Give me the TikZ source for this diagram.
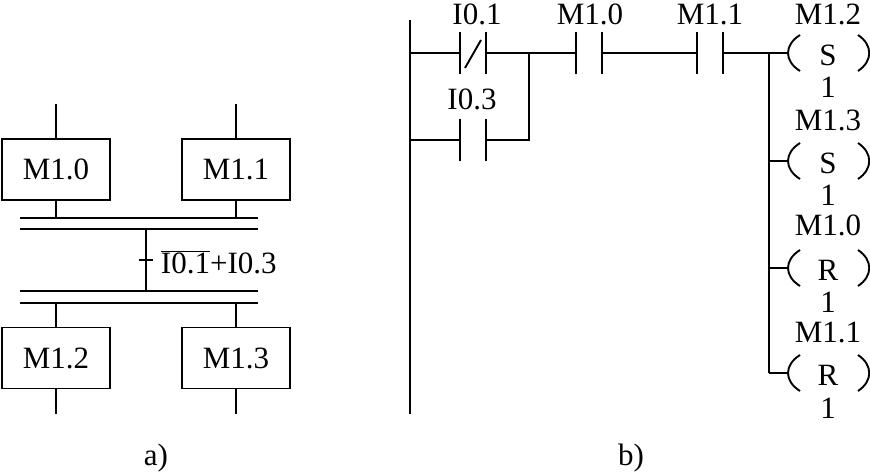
\documentclass[tikz,border=0pt]{standalone}
\usepackage{fontspec}
\setmainfont{Liberation Serif}
\usetikzlibrary{positioning}
\begin{document}
\begin{tikzpicture}[
    x=1pt, y=-1pt,
    line width=1.9pt,
    stepbox/.style={draw, minimum width=108pt, minimum height=61pt, inner sep=0pt,
                font=\fontsize{31}{31}\selectfont},
    lab/.style={inner sep=0pt, font=\fontsize{31}{31}\selectfont},
    plate/.style={line width=1.9pt},
  ]
    \useasboundingbox (0,0) rectangle (870,475);

    % a) step diagram
    \node[stepbox] (m10) at (56,169.5) {M1.0};
    \node[stepbox] (m11) at (236,169.5) {M1.1};
    \node[stepbox] (m12) at (56,358) {M1.2};
    \node[stepbox] (m13) at (236,358) {M1.3};

    \coordinate (in0) at (56,104);
    \coordinate (in1) at (236,104);
    \coordinate (out0) at (56,414);
    \coordinate (out1) at (236,414);
    \coordinate (railA) at (20,218);
    \coordinate (railAe) at (258,218);
    \coordinate (railB) at (20,229);
    \coordinate (railBe) at (258,229);
    \coordinate (railC) at (20,291);
    \coordinate (railCe) at (258,291);
    \coordinate (railD) at (20,303);
    \coordinate (railDe) at (258,303);
    \draw (railA) -- (railAe);
    \draw (railB) -- (railBe);
    \draw (railC) -- (railCe);
    \draw (railD) -- (railDe);

    \draw (in0) -- (m10);
    \draw (in1) -- (m11);
    \draw (m10.south) -- (m10.south |- railA);
    \draw (m11.south) -- (m11.south |- railA);
    \draw (m12.north) -- (m12.north |- railD);
    \draw (m13.north) -- (m13.north |- railD);
    \draw (m12) -- (out0);
    \draw (m13) -- (out1);

    \coordinate (trans) at (146,229);
    \coordinate (transe) at (146,291);
    \coordinate (tickl) at (139,260);
    \coordinate (tickr) at (153,260);
    \draw (trans) -- (transe);
    \draw (tickl) -- (tickr);
    \node[lab, anchor=west] (cond) at (160,262) {$\overline{\hbox{I0.1}}$+I0.3};

    \node[lab] (capa) at (156,458) {a)};
    \node[lab] (capb) at (631,458) {b)};

    % b) ladder diagram
    \coordinate (power) at (410,20);
    \coordinate (powere) at (410,414);
    \draw (power) -- (powere);

    \coordinate (r1) at (410,53);
    \coordinate (r2) at (410,140);
    \coordinate (bus) at (769,53);
    \coordinate (buse) at (769,373);
    \coordinate (branch) at (529,53);

    % contacts: name/left plate/right plate/row
    \foreach \name/\xa/\xb/\yy in {ca/460/486/53, cb/460/486/140, cc/576/602/53, cd/697/723/53} {
      \coordinate (\name l) at (\xa,\yy);
      \coordinate (\name r) at (\xb,\yy);
      \draw[plate] (\xa,\yy-21) -- (\xa,\yy+21);
      \draw[plate] (\xb,\yy-21) -- (\xb,\yy+21);
    }
    \coordinate (slasha) at (481,40);
    \coordinate (slashb) at (465,68);
    \draw (slasha) -- (slashb);

    \draw (r1) -- (cal);
    \draw (car) -- (ccl);
    \draw (ccr) -- (cdl);
    \draw (cdr) -- (bus);
    \draw (r2) -- (cbl);
    \draw (cbr) -- (branch |- cbr) -- (branch);
    \draw (bus) -- (buse);

    \node[lab] (ti01) at (477,14) {I0.1};
    \node[lab] (ti03) at (472,99) {I0.3};
    \node[lab] (tm10) at (590,14) {M1.0};
    \node[lab] (tm11) at (710,14) {M1.1};

    % coils: row/letter/top label/label row/number row
    \foreach \name/\yy/\ltr/\top/\ty/\ny in {ka/53/S/M1.2/14/87, kb/161/S/M1.3/120/195, kc/268/R/M1.0/225/302, kd/373/R/M1.1/332/408} {
      \coordinate (\name) at (788,\yy);
      \draw (bus |- \name) -- (\name);
      \draw (800,\yy-18) .. controls (784,\yy-8) and (784,\yy+8) .. (800,\yy+18);
      \draw (858,\yy-18) .. controls (873,\yy-8) and (873,\yy+8) .. (858,\yy+18);
      \node[lab] (\name t) at (828,\yy+2) {\ltr};
      \node[lab] (\name m) at (828,\ty) {\top};
      \node[lab] (\name n) at (828,\ny) {1};
    }
  \end{tikzpicture}
\end{document}
